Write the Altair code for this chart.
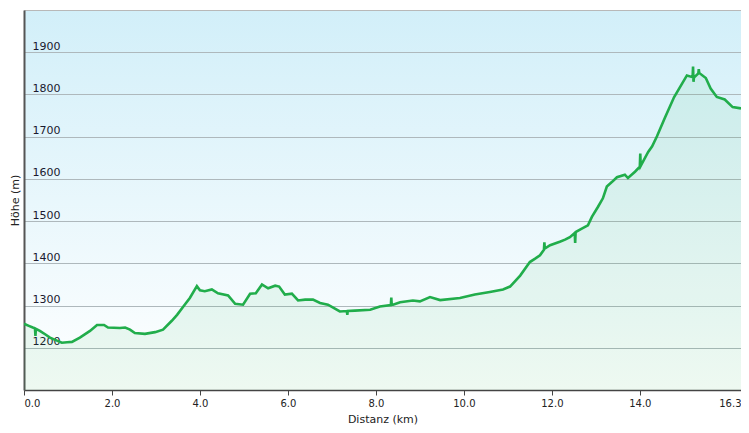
import altair as alt
import pandas as pd

distance_km = [
    0.00, 0.11, 0.20, 0.25, 0.26, 0.27, 0.36, 0.48, 0.59, 0.75, 0.86, 0.98, 1.09,
    1.27, 1.50, 1.66, 1.82, 1.91, 2.18, 2.30, 2.41, 2.52, 2.75, 2.98, 3.16, 3.36,
    3.48, 3.61, 3.77, 3.93, 4.00, 4.11, 4.27, 4.41, 4.64, 4.80, 4.98, 5.14, 5.27,
    5.41, 5.55, 5.71, 5.80, 5.93, 6.09, 6.23, 6.39, 6.57, 6.73, 6.91, 7.18, 7.34,
    7.35, 7.36, 7.52, 7.87, 8.09, 8.34, 8.35, 8.36, 8.39, 8.55, 8.84, 9.00, 9.23,
    9.46, 9.91, 10.25, 10.59, 10.89, 11.05, 11.28, 11.50, 11.62, 11.73, 11.82,
    11.83, 11.84, 11.96, 12.18, 12.30, 12.41, 12.52, 12.53, 12.54, 12.68, 12.82,
    12.91, 13.05, 13.16, 13.25, 13.37, 13.48, 13.66, 13.73, 13.89, 14.00, 14.01,
    14.02, 14.19, 14.28, 14.39, 14.57, 14.78, 14.94, 15.07, 15.20, 15.21, 15.22,
    15.23, 15.33, 15.34, 15.35, 15.50, 15.61, 15.75, 15.93, 16.11, 16.30,
]
elevation_m = [
    1257, 1252, 1248, 1246, 1228, 1245, 1240, 1232, 1224, 1217, 1212, 1213, 1214,
    1224, 1240, 1254, 1254, 1248, 1247, 1248, 1243, 1235, 1233, 1237, 1243, 1264,
    1278, 1296, 1318, 1346, 1336, 1334, 1338, 1329, 1324, 1304, 1302, 1328, 1329,
    1350, 1341, 1347, 1345, 1326, 1328, 1312, 1314, 1314, 1306, 1302, 1286, 1287,
    1278, 1287, 1288, 1290, 1298, 1301, 1319, 1302, 1302, 1308, 1312, 1310, 1320,
    1313, 1318, 1326, 1332, 1338, 1345, 1371, 1403, 1411, 1419, 1432, 1450, 1435,
    1443, 1451, 1456, 1462, 1472, 1448, 1474, 1482, 1490, 1510, 1534, 1554, 1582,
    1593, 1604, 1610, 1602, 1617, 1629, 1660, 1631, 1664, 1677, 1701, 1745, 1794,
    1822, 1845, 1841, 1866, 1830, 1840, 1850, 1860, 1851, 1839, 1814, 1794, 1788,
    1770, 1767,
]

x_ticks = [0, 2, 4, 6, 8, 10, 12, 14, 16.3]
y_ticks = [1200, 1300, 1400, 1500, 1600, 1700, 1800, 1900]
x_domain = [0, 16.3]
y_domain = [1100, 2000]

df = pd.DataFrame({"km": distance_km, "m": elevation_m})

FONT = "DejaVu Sans"

x_scale = alt.Scale(domain=x_domain, nice=False, zero=False)
y_scale = alt.Scale(domain=y_domain, nice=False, zero=False)

x_axis = alt.Axis(
    values=x_ticks, format=".1f", labelFlush=True, grid=False,
    tickSize=5, tickColor="#444444", domainColor="#444444", domainWidth=1.5,
    labelFont=FONT, labelFontSize=10, labelColor="#222222", labelPadding=3,
    title="Distanz  (km)", titleFont=FONT, titleFontSize=11,
    titleFontWeight="normal", titleColor="#222222", titlePadding=5,
)
y_axis = alt.Axis(
    values=y_ticks, format="d", grid=True, gridColor="#aeb8bc", gridWidth=1,
    ticks=False, tickSize=0, domainColor="#555555", domainWidth=2,
    labelAlign="left", labelPadding=-8, labelBaseline="alphabetic", labelOffset=-3,
    labelFont=FONT, labelFontSize=11, labelColor="#1a1a2e",
    title="Höhe (m)", titleFont=FONT, titleFontSize=11, titleFontWeight="normal",
    titleColor="#222222", titleX=-9, titleY=190, titleAngle=-90,
    titleAlign="center", titleBaseline="middle",
)

x_enc = alt.X("km:Q", scale=x_scale, axis=x_axis)
y_enc = alt.Y("m:Q", scale=y_scale, axis=y_axis)

bg_expr = ("{gradient: 'linear', x1: 0, y1: 0, x2: 0, y2: 1, "
           "stops: [{offset: 0, color: '#d2eff9'}, {offset: 1, color: '#ffffff'}]}")

base = alt.Chart(df)
area = base.mark_area(color="#22b14c", opacity=0.08, clip=True).encode(
    x=x_enc, y=y_enc, y2=alt.datum(1100)
)
line = base.mark_line(color="#21ad4b", strokeWidth=2.6, clip=True).encode(x=x_enc, y=y_enc)

chart = (
    alt.layer(area, line)
    .properties(
        width=717, height=380,
        autosize=alt.AutoSizeParams(type="none"),
        padding={"left": 16, "top": 2, "right": 0, "bottom": 35},
    )
    .configure_view(stroke="#b8b8b8", strokeWidth=1, fill=alt.ExprRef(expr=bg_expr))
)

chart.save("out.html", embed_options={"renderer": "svg", "actions": False})
